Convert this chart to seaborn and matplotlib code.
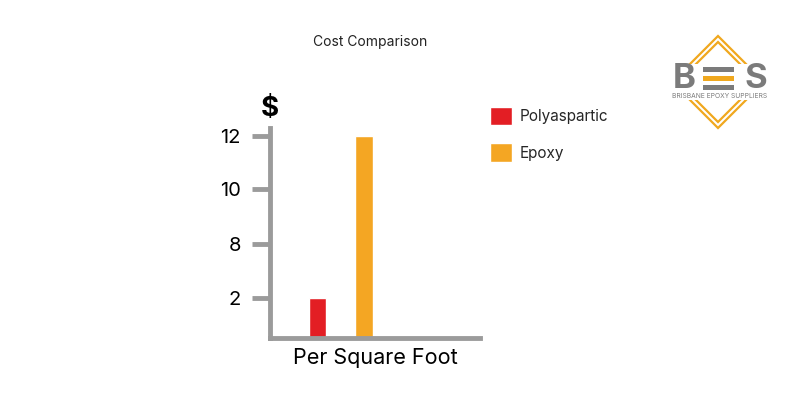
import numpy as np
import pandas as pd
import matplotlib
matplotlib.use("Agg")
import matplotlib.pyplot as plt
from matplotlib.patches import Rectangle, Polygon
import seaborn as sns

# chart values
materials = ["Polyaspartic", "Epoxy"]
cost_per_sqft = [2, 12]
basis = ["Per Square Foot", "Per Square Foot"]
y_ticks = [2, 8, 10, 12]
bar_colors = ["#E31E24", "#F4A623"]

df = pd.DataFrame({"basis": basis, "material": materials, "cost": cost_per_sqft})

sns.set_theme(style="white")
plt.rcParams["font.family"] = ["Inter", "DejaVu Sans"]

AXIS_GREY = "#9b9b9b"

# the infographic spaces its ticks evenly, not linearly -> piecewise scale
knots_v = [-1, 0, 2, 8, 10, 12, 14]
knots_h = [-20, 0, 40, 94, 148, 201, 255]

def fwd(v):
    return np.interp(v, knots_v, knots_h)

def inv(h):
    return np.interp(h, knots_h, knots_v)

fig = plt.figure(figsize=(8, 4), dpi=100)
ax = fig.add_axes([270 / 800, 62 / 400, 210 / 800, 210 / 400])
ax.set_yscale("function", functions=(fwd, inv))

sns.barplot(data=df, x="basis", y="cost", hue="material", palette=bar_colors,
            width=0.8, gap=0.63, saturation=1, ax=ax)

ax.set_ylim(0, 12.3)
ax.set_xlim(-0.61, 1.2)
ax.set_yticks(y_ticks)
ax.set_yticklabels([str(t) for t in y_ticks], fontsize=14.5, color="black")
ax.yaxis.set_minor_locator(matplotlib.ticker.NullLocator())
ax.tick_params(axis="y", which="major", left=True, length=13, width=3.5,
               color=AXIS_GREY, pad=8)
ax.set_xticks([])
ax.set_xlabel("Per Square Foot", fontsize=15.5, labelpad=7, color="black")
ax.set_ylabel("")
for side in ["top", "right"]:
    ax.spines[side].set_visible(False)
for side in ["left", "bottom"]:
    ax.spines[side].set_color(AXIS_GREY)
    ax.spines[side].set_linewidth(3.5)
    ax.spines[side].set_capstyle("projecting")

ax.text(0, 1.09, "$", transform=ax.transAxes, ha="center", va="center",
        fontsize=20, fontweight="bold", color="black")

leg = ax.legend(loc="upper left", bbox_to_anchor=(490 / 800, 1 - 107 / 400),
                bbox_transform=fig.transFigure, frameon=False, fontsize=11,
                handlelength=1.45, handleheight=1.45, labelspacing=1.2,
                handletextpad=0.5, borderpad=0, borderaxespad=0)

fig.text(370 / 800, 1 - 42 / 400, "Cost Comparison", ha="center", va="center",
         fontsize=10, color="#222222")

# logo, drawn in pixel units
lg = fig.add_axes([650 / 800, 270 / 400, 140 / 800, 100 / 400])
lg.set_xlim(650, 790)
lg.set_ylim(130, 30)
lg.axis("off")
orange = "#F0A81E"
for r in (46, 40):
    cx, cy = 718, 82
    lg.add_patch(Polygon([(cx, cy - r), (cx + r, cy), (cx, cy + r), (cx - r, cy)],
                         closed=True, fill=False, edgecolor=orange, linewidth=1.6))
lg.add_patch(Rectangle((662, 64), 114, 36, facecolor="white", edgecolor="none"))
grey = "#7b7b7b"
lg.text(684, 79, "B", ha="center", va="center", fontsize=25, fontweight="bold",
        color=grey)
lg.text(756, 79, "S", ha="center", va="center", fontsize=25, fontweight="bold",
        color=grey)
lg.add_patch(Rectangle((703, 67), 31, 5, facecolor=grey, edgecolor="none"))
lg.add_patch(Rectangle((703, 76), 31, 5, facecolor=orange, edgecolor="none"))
lg.add_patch(Rectangle((703, 85), 31, 5, facecolor=grey, edgecolor="none"))
lg.text(720, 96, "BRISBANE EPOXY SUPPLIERS", ha="center", va="center",
        fontsize=4.8, color=grey)

fig.savefig("out.png", dpi=100, facecolor="white")
